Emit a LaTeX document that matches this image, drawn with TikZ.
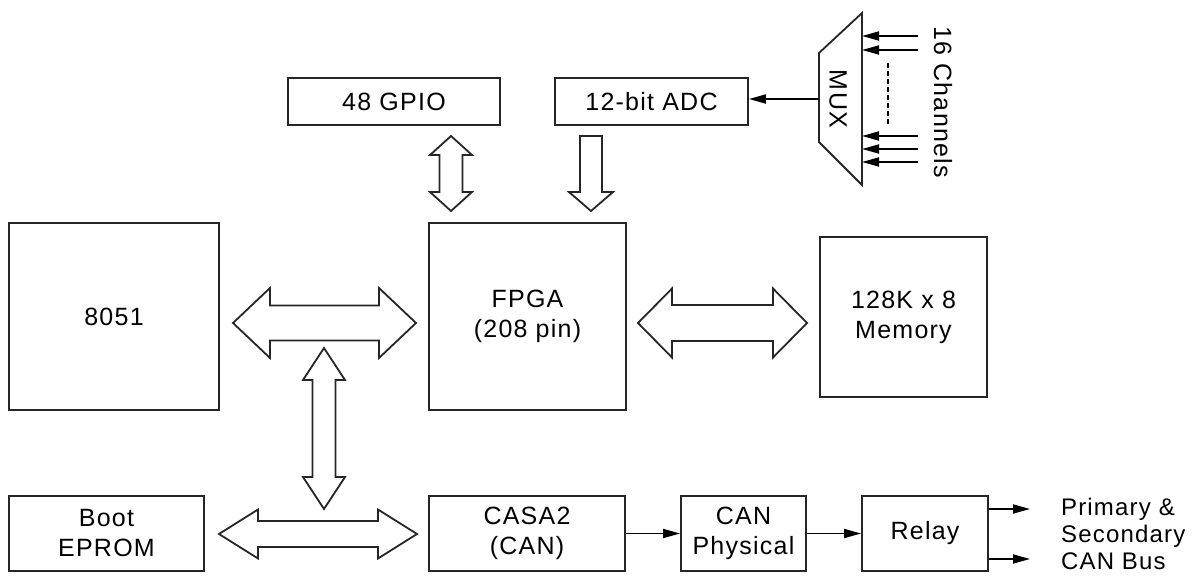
\documentclass[tikz,border=0pt]{standalone}
\usepackage{fontspec}
\setmainfont{Liberation Sans}[LetterSpace=5]
\usetikzlibrary{arrows.meta,calc}

% fat double arrow, horizontal: ends, shaft half, head half, head length
\newcommand{\hbus}[5]{%
    \draw[bus] let \p1=(#1), \p2=(#2) in
        (\x1,\y1) -- (\x1+#5,\y1+#4) -- (\x1+#5,\y1+#3) -- (\x2-#5,\y1+#3)
        -- (\x2-#5,\y1+#4) -- (\x2,\y1) -- (\x2-#5,\y1-#4) -- (\x2-#5,\y1-#3)
        -- (\x1+#5,\y1-#3) -- (\x1+#5,\y1-#4) -- cycle;}
% fat double arrow, vertical: top end, bottom end, ...
\newcommand{\vbus}[5]{%
    \draw[bus] let \p1=(#1), \p2=(#2) in
        (\x1,\y1) -- (\x1+#4,\y1-#5) -- (\x1+#3,\y1-#5) -- (\x1+#3,\y2+#5)
        -- (\x1+#4,\y2+#5) -- (\x1,\y2) -- (\x1-#4,\y2+#5) -- (\x1-#3,\y2+#5)
        -- (\x1-#3,\y1-#5) -- (\x1-#4,\y1-#5) -- cycle;}
% fat single arrow, pointing down
\newcommand{\vdown}[5]{%
    \draw[bus] let \p1=(#1), \p2=(#2) in
        (\x1-#3,\y1) -- (\x1+#3,\y1) -- (\x1+#3,\y2+#5) -- (\x1+#4,\y2+#5)
        -- (\x1,\y2) -- (\x1-#4,\y2+#5) -- (\x1-#3,\y2+#5) -- cycle;}

\begin{document}
\begin{tikzpicture}[
        x=0.5pt, y=-0.5pt,
        block/.style={draw=black!85, line width=0.9pt, align=center, inner sep=0pt,
            font=\fontsize{12.5}{15}\selectfont},
        bus/.style={draw=black!85, line width=0.9pt, fill=white},
        sig/.style={-{Triangle[length=8.5pt, width=4.5pt]}, line width=0.9pt},
    ]
        \useasboundingbox (0,0) rectangle (1200,577);

        % Blocks
        \node[block, minimum width=106pt, minimum height=23.5pt] (gpio) at (394,101.5) {48 GPIO};
        \node[block, minimum width=96.5pt, minimum height=23.5pt] (adc) at (651.5,101.5) {12-bit ADC};
        \node[block, minimum width=105pt, minimum height=93.5pt] (cpu) at (114,316.5) {8051};
        \node[block, minimum width=98.5pt, minimum height=93.5pt] (fpga) at (527.5,316.5) {FPGA\\(208 pin)};
        \node[block, minimum width=83.5pt, minimum height=80pt] (mem) at (903.5,317) {128K x 8\\Memory};
        \node[block, minimum width=97.5pt, minimum height=37.5pt] (eprom) at (106.5,533.5) {Boot\\EPROM};
        \node[block, minimum width=98pt, minimum height=37.5pt] (casa) at (527,533.5) {CASA2\\(CAN)};
        \node[block, minimum width=62.5pt, minimum height=37.5pt] (canphy) at (743.5,533.5) {CAN\\Physical};
        \node[block, minimum width=63pt, minimum height=37.5pt] (relay) at (925,533.5) {Relay};

        % MUX
        \coordinate (m1) at (819,53);
        \coordinate (m2) at (862,13);
        \coordinate (m3) at (862,185);
        \coordinate (m4) at (819,142);
        \draw[bus] (m1) -- (m2) -- (m3) -- (m4) -- cycle;
        \node[rotate=-90, font=\fontsize{12.5}{15}\selectfont] (mux) at (838,99) {MUX};
        \coordinate (muxout) at (819,99);
        \draw[sig] (muxout) -- (muxout -| adc.east);

        % Channels
        \foreach \cy [count=\i] in {36,50,136,149,162} {
            \coordinate (ch\i) at (918,\cy);
            \draw[sig] (ch\i) -- (ch\i -| m2);
        }
        \draw[line width=0.9pt, dash pattern=on 2.5pt off 1.5pt] (888,63) -- (888,125);
        \node[rotate=-90, font=\fontsize{12.5}{15}\selectfont] (chan) at (943,102) {16 Channels};

        % Buses
        \coordinate (b1l) at (233,323);
        \coordinate (b1r) at (416,323);
        \coordinate (b2l) at (638,323);
        \coordinate (b2r) at (807,323);
        \coordinate (b3t) at (324,348);
        \coordinate (b3b) at (324,509);
        \coordinate (b4l) at (219,534);
        \coordinate (b4r) at (417,534);
        \coordinate (b5t) at (451,136);
        \coordinate (b5b) at (451,211);
        \coordinate (b6t) at (591,136);
        \coordinate (b6b) at (591,211);
        \hbus{b1l}{b1r}{8.75pt}{17.5pt}{18.5pt}
        \hbus{b2l}{b2r}{9pt}{17.25pt}{17pt}
        \vbus{b3t}{b3b}{5.75pt}{10.5pt}{16pt}
        \hbus{b4l}{b4r}{6.5pt}{12.25pt}{19.5pt}
        \vbus{b5t}{b5b}{5.75pt}{10.5pt}{9.5pt}
        \vdown{b6t}{b6b}{5.5pt}{11pt}{9.5pt}

        % CAN chain
        \draw[sig] (casa) -- (canphy);
        \draw[sig] (canphy) -- (relay);
        \coordinate (outa) at (1030,509);
        \coordinate (outb) at (1030,559);
        \draw[sig] (relay.east |- outa) -- (outa);
        \draw[sig] (relay.east |- outb) -- (outb);
        \node[align=left, anchor=west, font=\fontsize{12}{13.5}\selectfont] (canbus) at (1054,534)
            {Primary \&\\Secondary\\CAN Bus};
    \end{tikzpicture}
\end{document}
